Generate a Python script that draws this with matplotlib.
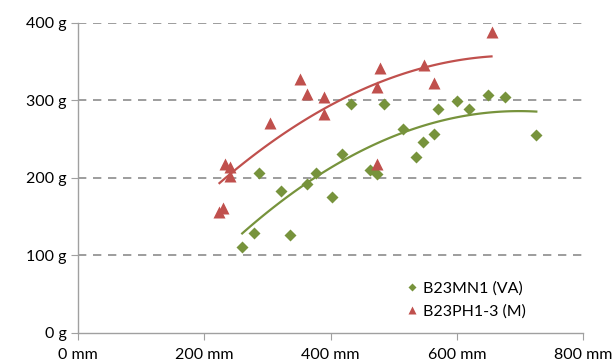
import numpy as np
import matplotlib
matplotlib.use("Agg")
from matplotlib import pyplot as plt
from matplotlib.ticker import FuncFormatter

plt.rcParams['font.family'] = ['Lato', 'DejaVu Sans']

# B23MN1 (VA) - green diamonds
va_x = [260, 278, 286, 321, 335, 363, 377, 402, 418, 433, 462, 473, 484,
        515, 536, 546, 564, 571, 600, 619, 649, 677, 726]
va_y = [111, 129, 206, 183, 126, 192, 206, 175, 231, 295, 210, 205, 295,
        263, 226, 246, 256, 288, 299, 288, 306, 304, 255]

# B23PH1-3 (M) - red triangles
m_x = [224, 229, 233, 240, 241, 304, 352, 362, 389, 390, 473, 473, 479,
       548, 564, 655]
m_y = [156, 161, 218, 214, 202, 271, 327, 308, 304, 282, 317, 218, 342,
       345, 322, 388]

x_ticks = [0, 200, 400, 600, 800]
y_ticks = [0, 100, 200, 300, 400]

green = '#77933C'
red = '#C0504D'

fig = plt.figure(figsize=(6.15, 3.64), dpi=100)
ax = fig.add_axes([0.127, 0.086, 0.821, 0.852])

# polynomial (order 2) trendlines like the spreadsheet ones
for xs, ys, col in [(va_x, va_y, green), (m_x, m_y, red)]:
    c = np.polyfit(xs, ys, 2)
    xx = np.linspace(min(xs), max(xs), 100)
    ax.plot(xx, np.polyval(c, xx), color=col, lw=1.6, zorder=2)

ax.plot(va_x, va_y, 'D', color=green, ms=6.5, mec='none', zorder=3,
        label='B23MN1 (VA)')
ax.plot(m_x, m_y, '^', color=red, ms=9, mec='none', zorder=3,
        label='B23PH1-3 (M)')

ax.set_xlim(0, 800)
ax.set_ylim(0, 400)
ax.set_xticks(x_ticks)
ax.set_yticks(y_ticks)
ax.xaxis.set_major_formatter(FuncFormatter(lambda v, p: f"{int(v)} mm"))
ax.yaxis.set_major_formatter(FuncFormatter(lambda v, p: f"{int(v)} g"))

for yv in y_ticks[1:]:
    ax.axhline(yv, color='#8C8C8C', lw=1.2, ls=(0, (5, 4)), zorder=1)

for s in ['top', 'right']:
    ax.spines[s].set_visible(False)
for s in ['left', 'bottom']:
    ax.spines[s].set_color('#A0A0A0')
    ax.spines[s].set_linewidth(1)
ax.tick_params(axis='both', colors='#A0A0A0', length=5, labelsize=11.5,
               labelcolor='black')
ax.tick_params(axis='x', pad=6)
ax.tick_params(axis='y', pad=3)

ax.legend(loc='lower right', bbox_to_anchor=(0.915, 0.0), frameon=False,
          fontsize=11.5, handletextpad=0.1, handlelength=1.2,
          labelspacing=0.5, markerscale=0.7)

fig.savefig('out.png', dpi=100)
